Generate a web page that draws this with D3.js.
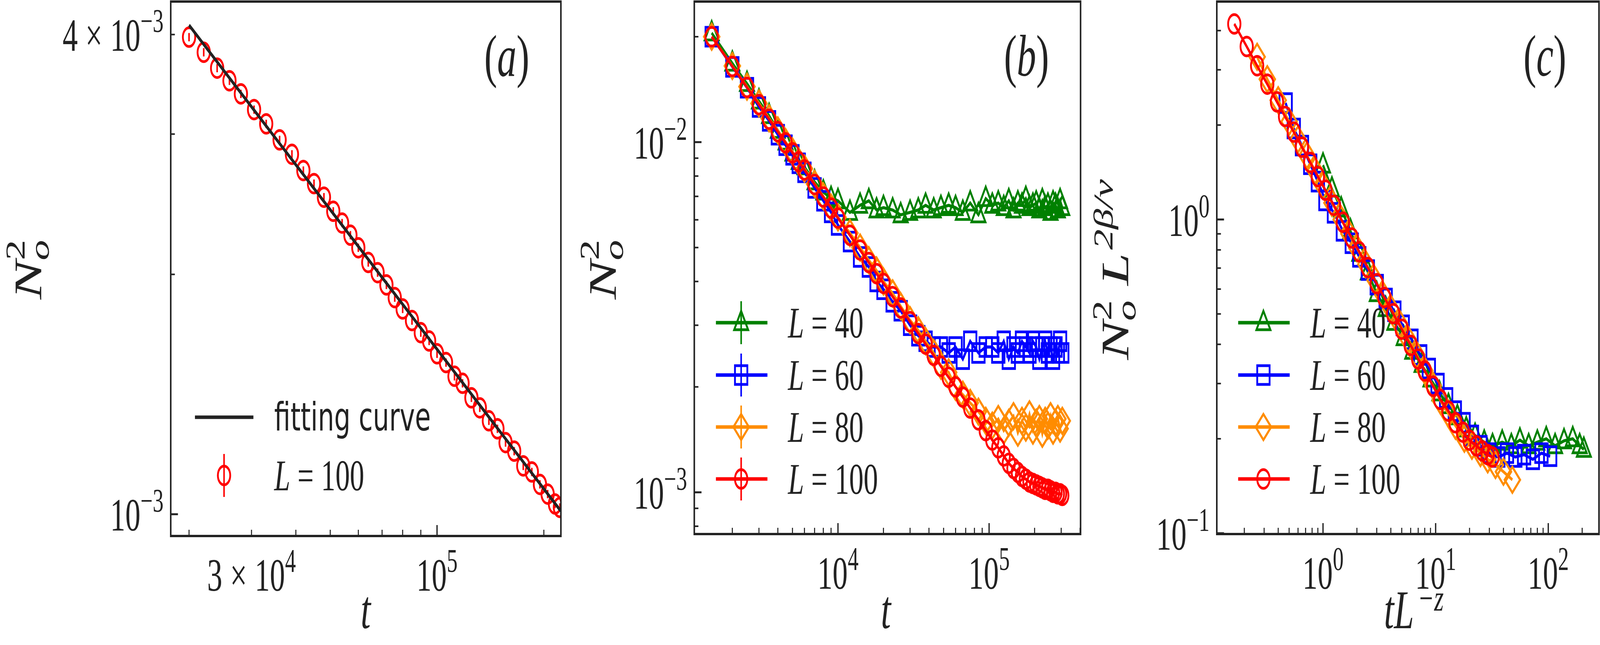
<!DOCTYPE html>
<html><head><meta charset="utf-8">
<script src="https://cdn.jsdelivr.net/npm/d3@7"></script>
<style>html,body{margin:0;padding:0;background:#fff;overflow:hidden}svg{display:block;width:100vw;height:100vh}</style></head>
<body><svg id="c" viewBox="0 0 6213 1651" preserveAspectRatio="none"></svg>
<script>
// ---------- DATA ----------
const aT = [20000,22000,24000,26000,28000,30500,33000,36000,39000,42000,45000,48000,51000,54000,57000,60000,64000,68000,72000,76000,80000,85000,90000,95000,100000,106000,112000,118000,125000,132000,140000,148000,156000,165000,175000,185000,195000,205000,215000,222000];
const aY = [3.97,3.80,3.63,3.50,3.37,3.22,3.09,2.95,2.83,2.70,2.60,2.50,2.40,2.32,2.24,2.16,2.07,2.01,1.94,1.87,1.81,1.75,1.69,1.65,1.59,1.55,1.49,1.46,1.40,1.36,1.31,1.28,1.23,1.20,1.15,1.13,1.09,1.06,1.03,1.02].map(v=>v*1e-3);
const fitT = [20000,223000];
const fitY = [4.11e-3,1.01e-3];

const bT = [1460,2000,2500,3000,3500,4000,4500,5000,5500,6000,7000,8000,9000,10000,12000,14000,16000,18000,20000,23000,26000,30000,34000,38000,43000,48000,54000,60000,67000,75000,85000,95000,105000,115000,125000,135000,145000,155000,165000,175000,185000,195000,205000,215000,225000,235000,245000,255000,265000,275000,285000,295000,305000];
const bL40 = [.0205,.0168,.0147,.0131,.0119,.0108,.0100,.0093,.0088,.0085,.0077,.0072,.0069,.0068,.0063,.0066,.0068,.0064,.0065,.0064,.0062,.0063,.0064,.0066,.0064,.0065,.0066,.0065,.0063,.0067,.0062,.0069,.0066,.0067,.0065,.0068,.0064,.0067,.0066,.0069,.0065,.0066,.0067,.0064,.0068,.0065,.0066,.0063,.0067,.0066,.0064,.0068,.0065];
const bL60 = [.0200,.0164,.0143,.0126,.0115,.0105,.0098,.0092,.0087,.0082,.0074,.0068,.0063,.0058,.0052,.0047,.0044,.0040,.0038,.0035,.0033,.0030,.0028,.0027,.0026,.0026,.0025,.0026,.0024,.0027,.0025,.0026,.0026,.0025,.0027,.0024,.0026,.0025,.0027,.0026,.0025,.0027,.0026,.0024,.0026,.0027,.0025,.0026,.0024,.0026,.0025,.0027,.0025];
const bL80 = [.0200,.0165,.0144,.0129,.0117,.0108,.0100,.0094,.0088,.0084,.0076,.0070,.0065,.0061,.0055,.0050,.0046,.0043,.0040,.0037,.0034,.0031,.0029,.0027,.0025,.0023,.0022,.0020,.0019,.0018,.0017,.0016,.00155,.00162,.00150,.00158,.00165,.00148,.00160,.00153,.00167,.00150,.00158,.00162,.00147,.00160,.00155,.00165,.00150,.00158,.00162,.00152,.00160];
const bL100 = [.0200,.01645,.01433,.0128,.01163,.01071,.00995,.00932,.00879,.00833,.00757,.00697,.00648,.00607,.00542,.00492,.00453,.00421,.00395,.00362,.00336,.00307,.00284,.00265,.00246,.00229,.00213,.0020,.00187,.00174,.00161,.0015,.00141,.00134,.00127,.00121,.00117,.00114,.00111,.00109,.00107,.00106,.00105,.00104,.00103,.00102,.00102,.00101,.00100,.00100,.00099,.00099,.00098];

const cX40 = [1.0,1.2,1.45,1.75,2.1,2.5,3.0,3.6,4.3,5.2,6.2,7.5,9,10.8,13,15.6,18.7,22.4,27,32,39,47,56,67,80,96,115,138,165,190,207];
const cY40 = [1.49,1.25,1.08,0.92,0.78,0.68,0.58,0.52,0.47,0.42,0.38,0.345,0.31,0.28,0.255,0.235,0.215,0.205,0.195,0.19,0.195,0.19,0.198,0.19,0.195,0.2,0.19,0.197,0.2,0.19,0.185];
const cX60 = [0.466,0.55,0.65,0.77,0.9,1.05,1.25,1.5,1.8,2.1,2.5,3.0,3.6,4.3,5.1,6.1,7.3,8.7,10.4,12.4,14.8,17.7,21,25,30,36,43,51,61,73,87,104];
const cY60 = [2.35,1.95,1.72,1.50,1.32,1.15,1.05,0.92,0.84,0.76,0.69,0.62,0.56,0.51,0.46,0.415,0.37,0.335,0.3,0.27,0.245,0.225,0.205,0.19,0.18,0.175,0.18,0.175,0.178,0.172,0.18,0.176];
const cX80 = [0.26,0.32,0.4,0.5,0.6,0.72,0.85,1.0,1.2,1.45,1.7,2.0,2.4,2.9,3.4,4.0,4.8,5.7,6.8,8,9.5,11,13,15,18,21,25,29,34,40,48];
const cY80 = [3.3,2.8,2.4,2.05,1.8,1.6,1.43,1.28,1.13,1.0,0.9,0.81,0.72,0.64,0.575,0.52,0.465,0.415,0.37,0.33,0.295,0.265,0.24,0.22,0.2,0.19,0.18,0.172,0.165,0.157,0.148];
const cX100 = [0.163,0.21,0.26,0.32,0.39,0.46,0.55,0.65,0.77,0.9,1.05,1.25,1.5,1.8,2.1,2.5,3.0,3.5,4.2,5,6,7,8,9.5,11,13,15,17.5,20,23,26,29,32];
const cY100 = [4.2,3.56,3.09,2.70,2.37,2.13,1.90,1.70,1.52,1.37,1.24,1.11,0.98,0.873,0.789,0.703,0.624,0.564,0.501,0.447,0.397,0.359,0.329,0.294,0.267,0.245,0.225,0.21,0.198,0.19,0.183,0.178,0.175];

const legendLabels = ["40","60","80","100"];
const colors = ["#008000","#0000ff","#ff8c00","#ff0000"];
const shapes = ["tri","sq","dia","circ"];

// ---------- DRAW ----------
const svg = d3.select("#c");
const SERIF = "'Liberation Serif','DejaVu Serif',serif";
const defs = svg.append("defs");

function marker(g, shape, x, y, col){
  const sw=7;
  if(shape==="circ") g.append("circle").attr("cx",x).attr("cy",y).attr("r",24).attr("fill","none").attr("stroke",col).attr("stroke-width",sw);
  else if(shape==="sq") g.append("rect").attr("x",x-24).attr("y",y-24).attr("width",48).attr("height",48).attr("fill","none").attr("stroke",col).attr("stroke-width",sw);
  else if(shape==="tri") g.append("path").attr("d",`M${x},${y-30}L${x+27},${y+18}L${x-27},${y+18}Z`).attr("fill","none").attr("stroke",col).attr("stroke-width",sw);
  else g.append("path").attr("d",`M${x},${y-33}L${x+30},${y}L${x},${y+33}L${x-30},${y}Z`).attr("fill","none").attr("stroke",col).attr("stroke-width",sw);
}

function supLabel(g, x, y, pre, base, exp, anchor){
  const t = g.append("text").attr("x",x).attr("y",y).attr("text-anchor",anchor).attr("font-family",SERIF).attr("font-size",118).attr("fill","#222");
  if(pre) t.append("tspan").text(pre);
  t.append("tspan").text(base);
  t.append("tspan").attr("dy",-48).attr("font-size",84).text(exp);
  return t;
}

function panel(id, box, xd, yd, opts){
  const [x0,y0,x1,y1]=box;
  const g = svg.append("g");
  const xs = d3.scaleLog().domain(xd).range([x0,x1]);
  const ys = d3.scaleLog().domain(yd).range([y1,y0]);
  defs.append("clipPath").attr("id","clip"+id).append("rect").attr("x",x0).attr("y",y0).attr("width",x1-x0).attr("height",y1-y0);
  const tk = g.append("g").attr("stroke","#222");
  opts.xMinor.forEach(v=>tk.append("line").attr("x1",xs(v)).attr("x2",xs(v)).attr("y1",y1).attr("y2",y1-16).attr("stroke-width",4));
  opts.xMajor.forEach(v=>tk.append("line").attr("x1",xs(v)).attr("x2",xs(v)).attr("y1",y1).attr("y2",y1-28).attr("stroke-width",5));
  opts.yMinor.forEach(v=>tk.append("line").attr("y1",ys(v)).attr("y2",ys(v)).attr("x1",x0).attr("x2",x0+16).attr("stroke-width",4));
  opts.yMajor.forEach(v=>tk.append("line").attr("y1",ys(v)).attr("y2",ys(v)).attr("x1",x0).attr("x2",x0+28).attr("stroke-width",5));
  opts.xLabels.forEach(([v,pre,b,e])=>supLabel(g,xs(v),y1+140,pre,b,e,"middle"));
  opts.yLabels.forEach(([v,pre,b,e])=>supLabel(g,x0-28,ys(v)+42,pre,b,e,"end"));
  const pg = g.append("g").attr("clip-path",`url(#clip${id})`);
  opts.draw(pg,xs,ys);
  g.append("rect").attr("x",x0).attr("y",y0).attr("width",x1-x0).attr("height",y1-y0).attr("fill","none").attr("stroke","#222").attr("stroke-width",6);
  g.append("text").attr("x",x1-210).attr("y",y0+190).attr("font-family",SERIF).attr("font-size",150).attr("fill","#222").attr("text-anchor","middle")
    .html(`(<tspan font-style="italic">${opts.tag}</tspan>)`);
  return {g,xs,ys};
}
function mm(a,b){const r=[];for(let d=a;d<=b;d++)for(let k=2;k<=9;k++)r.push(k*10**d);return r;}

function series(pg,xs,ys,X,Y,col,shape){
  const line=d3.line().x((d,i)=>xs(X[i])).y(d=>ys(d));
  pg.append("path").attr("d",line(Y)).attr("fill","none").attr("stroke",col).attr("stroke-width",8);
  Y.forEach((v,i)=>marker(pg,shape,xs(X[i]),ys(v),col));
}
function legendEntry(g,x,y,col,shape,label,bar){
  g.append("line").attr("x1",x).attr("x2",x+200).attr("y1",y).attr("y2",y).attr("stroke",col).attr("stroke-width",9);
  if(bar) g.append("line").attr("x1",x+98).attr("x2",x+98).attr("y1",y-55).attr("y2",y+55).attr("stroke",col).attr("stroke-width",6);
  marker(g,shape,x+98,y,col);
  const t=g.append("text").attr("x",x+280).attr("y",y+38).attr("font-family",SERIF).attr("font-size",112).attr("fill","#222");
  t.append("tspan").attr("font-style","italic").text("L");
  t.append("tspan").text(" = "+label);
}

// Panel a
const pa = panel("a",[663,4,2178,1372],[17760,223400],[0.939e-3,4.40e-3],{
  tag:"a",
  xMajor:[1e5], xMinor:[2e4,3e4,4e4,5e4,6e4,7e4,8e4,9e4,2e5],
  yMajor:[1e-3], yMinor:[2e-3,3e-3,4e-3],
  xLabels:[[3e4,"3 × ","10","4"],[1e5,"","10","5"]],
  yLabels:[[4e-3,"4 × ","10","−3"],[1e-3,"","10","−3"]],
  draw:(pg,xs,ys)=>{
    aY.forEach((v,i)=>{ pg.append("line").attr("x1",xs(aT[i])).attr("x2",xs(aT[i])).attr("y1",ys(v*1.012)).attr("y2",ys(v*0.988)).attr("stroke","#f00").attr("stroke-width",6);
      marker(pg,"circ",xs(aT[i]),ys(v),"#ff0000");});
    pg.append("path").attr("d",d3.line().x((d,i)=>xs(fitT[i])).y(d=>ys(d))(fitY)).attr("stroke","#222").attr("stroke-width",9).attr("fill","none");
  }
});
{
  const g=pa.g;
  g.append("line").attr("x1",757).attr("x2",984).attr("y1",1068).attr("y2",1068).attr("stroke","#222").attr("stroke-width",9);
  g.append("text").attr("x",1065).attr("y",1102).attr("font-family","'DejaVu Sans',sans-serif").attr("font-size",100).attr("fill","#222").text("fitting curve");
  g.append("line").attr("x1",870).attr("x2",870).attr("y1",1162).attr("y2",1272).attr("stroke","#f00").attr("stroke-width",6);
  marker(g,"circ",870,1217,"#ff0000");
  const t=g.append("text").attr("x",1065).attr("y",1255).attr("font-family",SERIF).attr("font-size",112).attr("fill","#222");
  t.append("tspan").attr("font-style","italic").text("L"); t.append("tspan").text(" = 100");
}

// Panel b
const pb = panel("b",[2696,4,4196,1367],[1120,403000],[7.6e-4,0.0252],{
  tag:"b",
  xMajor:[1e4,1e5], xMinor:mm(3,5).filter(v=>v>1120&&v<403000),
  yMajor:[1e-3,1e-2], yMinor:mm(-4,-2).filter(v=>v>7.6e-4&&v<0.0252),
  xLabels:[[1e4,"","10","4"],[1e5,"","10","5"]],
  yLabels:[[1e-2,"","10","−2"],[1e-3,"","10","−3"]],
  draw:(pg,xs,ys)=>{
    [bL40,bL60,bL80,bL100].forEach((Y,k)=>series(pg,xs,ys,bT,Y,colors[k],shapes[k]));
  }
});
[826,960,1093,1226].forEach((y,k)=>legendEntry(pb.g,2780,y,colors[k],shapes[k],legendLabels[k],true));

// Panel c
const pc = panel("c",[4725,4,6209,1367],[0.114,282],[0.0994,4.95],{
  tag:"c",
  xMajor:[1,10,100], xMinor:mm(-1,2).filter(v=>v>0.114&&v<282),
  yMajor:[0.1,1], yMinor:mm(-1,0).filter(v=>v>0.0994&&v<4.95),
  xLabels:[[1,"","10","0"],[10,"","10","1"],[100,"","10","2"]],
  yLabels:[[1,"","10","0"],[0.1,"","10","−1"]],
  draw:(pg,xs,ys)=>{
    series(pg,xs,ys,cX40,cY40,colors[0],shapes[0]);
    series(pg,xs,ys,cX60,cY60,colors[1],shapes[1]);
    series(pg,xs,ys,cX80,cY80,colors[2],shapes[2]);
    series(pg,xs,ys,cX100,cY100,colors[3],shapes[3]);
  }
});
[826,960,1093,1226].forEach((y,k)=>legendEntry(pc.g,4808,y,colors[k],shapes[k],legendLabels[k],false));

// Axis titles
function yTitle(x,y,extra){
  const t=svg.append("text").attr("transform",`translate(${x},${y}) rotate(-90)`).attr("text-anchor","middle").attr("font-family",SERIF).attr("font-size",150).attr("font-style","italic").attr("fill","#222");
  t.append("tspan").text("N");
  t.append("tspan").attr("dy",30).attr("font-size",105).text("o");
  t.append("tspan").attr("dx",-52).attr("dy",-95).attr("font-size",105).attr("font-style","normal").text("2");
  if(extra){
    t.append("tspan").attr("dy",65).text(" L");
    t.append("tspan").attr("dx",8).attr("dy",-60).attr("font-size",105).text("2β/ν");
  }
}
yTitle(160,690,false);
yTitle(2390,690,false);
yTitle(4380,690,true);
function xTitle(x,extra){
  const t=svg.append("text").attr("x",x).attr("y",1608).attr("text-anchor","middle").attr("font-family",SERIF).attr("font-size",140).attr("font-style","italic").attr("fill","#222");
  t.append("tspan").text("t");
  if(extra){ t.append("tspan").text("L"); t.append("tspan").attr("dx",14).attr("dy",-45).attr("font-size",95).text("−z"); }
}
xTitle(1420,false);
xTitle(3440,false);
xTitle(5490,true);
</script></body></html>
